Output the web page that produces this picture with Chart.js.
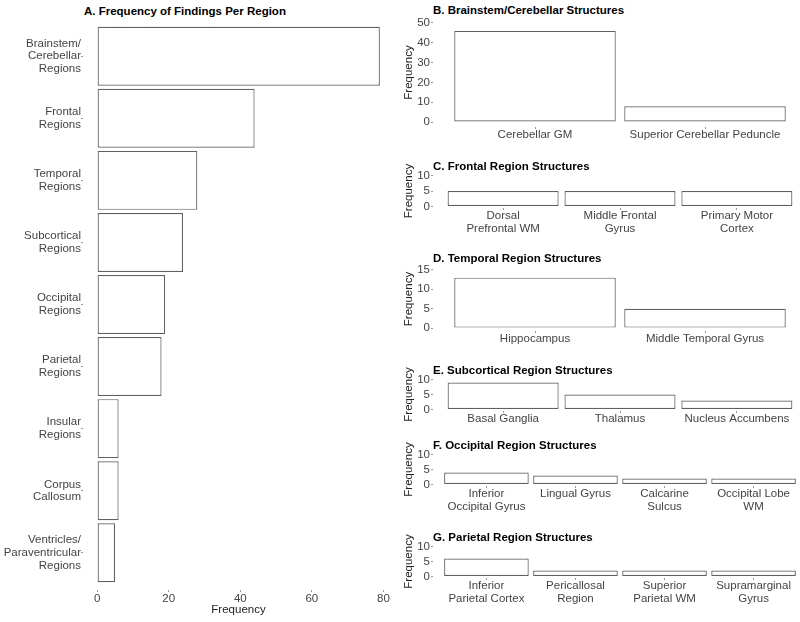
<!DOCTYPE html>
<html>
<head>
<meta charset="utf-8">
<script src="https://cdn.jsdelivr.net/npm/chart.js@4"></script>
<style>
  html, body { margin: 0; padding: 0; background: #fff; }
  body { width: 800px; height: 622px; position: relative; overflow: hidden;
         font-family: 'Liberation Sans', Arial, sans-serif; }
  canvas { position: absolute; }
  .panel-title { position: absolute; font-weight: bold; font-size: 11.5px; line-height: 13px;
                 color: #000; white-space: nowrap; }
</style>
</head>
<body>
<script>
/**
 * Data
 */
const regionLabels = [
    ['Brainstem/', 'Cerebellar', 'Regions'],
    ['Frontal', 'Regions'],
    ['Temporal', 'Regions'],
    ['Subcortical', 'Regions'],
    ['Occipital', 'Regions'],
    ['Parietal', 'Regions'],
    ['Insular', 'Regions'],
    ['Corpus', 'Callosum'],
    ['Ventricles/', 'Paraventricular', 'Regions'],
];
const regionCounts = [79, 44, 28, 24, 19, 18, 6, 6, 5];
const regionTicks = [0, 20, 40, 60, 80];

const brainstemLabels = ['Cerebellar GM', 'Superior Cerebellar Peduncle'];
const brainstemCounts = [46, 8];
const brainstemTicks = [0, 10, 20, 30, 40, 50];

const frontalLabels = [['Dorsal', 'Prefrontal WM'], ['Middle Frontal', 'Gyrus'], ['Primary Motor', 'Cortex']];
const frontalCounts = [5, 5, 5];
const frontalTicks = [0, 5, 10];

const temporalLabels = ['Hippocampus', 'Middle Temporal Gyrus'];
const temporalCounts = [13, 5];
const temporalTicks = [0, 5, 10, 15];

const subcorticalLabels = ['Basal Ganglia', 'Thalamus', 'Nucleus Accumbens'];
const subcorticalCounts = [9, 5, 3];
const subcorticalTicks = [0, 5, 10];

const occipitalLabels = [['Inferior', 'Occipital Gyrus'], 'Lingual Gyrus', ['Calcarine', 'Sulcus'], ['Occipital Lobe', 'WM']];
const occipitalCounts = [4, 3, 2, 2];
const occipitalTicks = [0, 5, 10];

const parietalLabels = [['Inferior', 'Parietal Cortex'], ['Pericallosal', 'Region'], ['Superior', 'Parietal WM'], ['Supramarginal', 'Gyrus']];
const parietalCounts = [6, 2, 2, 2];
const parietalTicks = [0, 5, 10];

const BAR_BORDER = '#606060';
const TICK_COLOR = '#999';
const FONT = { family: "'Liberation Sans', Arial, sans-serif", size: 11.5, lineHeight: 1.1 };

Chart.defaults.font.family = FONT.family;
Chart.defaults.color = '#444';

//////////////////////////////////////////////////////////////////

function addTitle(text, left, centerY) {
    const div = document.createElement('div');
    div.className = 'panel-title';
    div.textContent = text;
    div.style.left = left + 'px';
    div.style.top = (centerY - 6.5) + 'px';
    document.body.appendChild(div);
}

function addCanvas(left, top, width, height) {
    const cv = document.createElement('canvas');
    cv.width = width;
    cv.height = height;
    cv.style.left = left + 'px';
    cv.style.top = top + 'px';
    document.body.appendChild(cv);
    return cv;
}

/**
 * Discrete axis made from a linear scale so the ggplot padding (0.6 of a step) can be kept
 */
function discreteAxis(labels, extra) {
    return Object.assign({
        type: 'linear',
        min: -0.6,
        max: labels.length - 1 + 0.6,
        offset: false,
        afterBuildTicks: s => { s.ticks = labels.map((_, i) => ({ value: i })); },
        ticks: {
            autoSkip: false, maxRotation: 0, minRotation: 0, padding: 0,
            font: FONT, color: '#444',
            callback: v => labels[v]
        },
        grid: { drawOnChartArea: false, drawTicks: true, tickLength: 2, offset: false,
                color: TICK_COLOR, lineWidth: 1 },
        border: { display: false }
    }, extra || {});
}

function valueAxis(ticks, extra) {
    const top = ticks[ticks.length - 1];
    return Object.assign({
        type: 'linear',
        min: -0.05 * top,
        max: 1.05 * top,
        afterBuildTicks: s => { s.ticks = ticks.map(v => ({ value: v })); },
        ticks: { padding: 1, font: FONT, color: '#444' },
        grid: { drawOnChartArea: false, drawTicks: true, tickLength: 2,
                color: TICK_COLOR, lineWidth: 1 },
        border: { display: false }
    }, extra || {});
}

function barDataset(labels, counts, horizontal) {
    return {
        data: counts.map((c, i) => horizontal ? { x: c, y: i } : { x: i, y: c }),
        backgroundColor: '#fff',
        borderColor: BAR_BORDER,
        borderWidth: 1.2,
        borderSkipped: false,
        barPercentage: 0.95,
        categoryPercentage: 1
    };
}

const axisTitle = (padding) => ({
    display: true, text: 'Frequency', color: '#222',
    font: { family: FONT.family, size: 11.5 }, padding: padding
});

/**
 * Panel A: horizontal bars
 */
function loadRegionChart() {
    addTitle('A. Frequency of Findings Per Region', 84, 11);
    const cv = addCanvas(0, -30, 400, 652);
    new Chart(cv, {
        type: 'bar',
        data: { datasets: [barDataset(regionLabels, regionCounts, true)] },
        options: {
            indexAxis: 'y',
            responsive: false,
            animation: false,
            layout: { padding: { top: 49, right: 6, left: 0, bottom: 0 } },
            plugins: { legend: { display: false }, tooltip: { enabled: false } },
            scales: {
                y: discreteAxis(regionLabels, {
                    reverse: true,
                    afterFit: s => { s.width = 83; }
                }),
                x: valueAxis(regionTicks, {
                    min: -0.05 * 79,
                    max: 1.05 * 79,
                    title: axisTitle({ top: 0, bottom: 5 }),
                    afterFit: s => { s.height = 32; }
                })
            }
        }
    });
    // ticks on x sit below labels with no extra padding
}

/**
 * Panels B-G: vertical bars
 */
function loadStructureChart(title, titleY, labels, counts, ticks, top, bottom) {
    addTitle(title, 433, titleY);
    const h = bottom - top;
    const cv = addCanvas(390, top - 30, 420, h + 60);
    new Chart(cv, {
        type: 'bar',
        data: { datasets: [barDataset(labels, counts, false)] },
        options: {
            responsive: false,
            animation: false,
            layout: { padding: { top: 30, right: 3, left: 0, bottom: 0 } },
            plugins: { legend: { display: false }, tooltip: { enabled: false } },
            scales: {
                x: discreteAxis(labels, { afterFit: s => { s.height = 30; } }),
                y: valueAxis(ticks, {
                    title: axisTitle({ top: 12, bottom: 0 }),
                    afterFit: s => { s.width = 43; }
                })
            }
        }
    });
}

loadRegionChart();
loadStructureChart('B. Brainstem/Cerebellar Structures', 10, brainstemLabels, brainstemCounts, brainstemTicks, 18, 127);
loadStructureChart('C. Frontal Region Structures', 166, frontalLabels, frontalCounts, frontalTicks, 174, 208);
loadStructureChart('D. Temporal Region Structures', 258, temporalLabels, temporalCounts, temporalTicks, 267, 331);
loadStructureChart('E. Subcortical Region Structures', 370, subcorticalLabels, subcorticalCounts, subcorticalTicks, 378, 411);
loadStructureChart('F. Occipital Region Structures', 445, occipitalLabels, occipitalCounts, occipitalTicks, 453, 486);
loadStructureChart('G. Parietal Region Structures', 537, parietalLabels, parietalCounts, parietalTicks, 545, 578);
</script>
</body>
</html>
